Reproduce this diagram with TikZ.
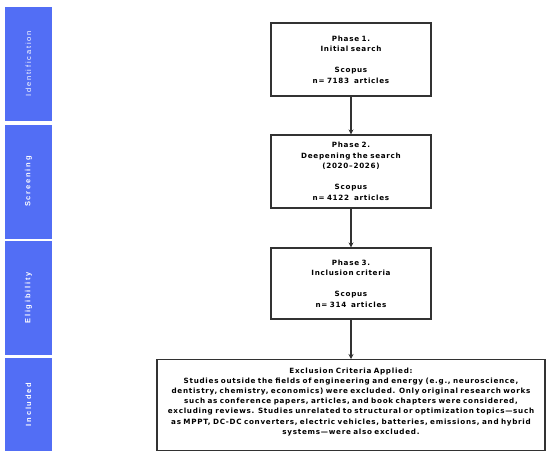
\documentclass[tikz,border=0pt]{standalone}
\usepackage{fontspec}
\setmainfont{DejaVu Sans}[LetterSpace=10,WordSpace=2.4]
\newfontfamily\stagefont{Liberation Sans}[LetterSpace=24]
\usetikzlibrary{arrows.meta,positioning}
\definecolor{stageblue}{RGB}{82,110,245}
\definecolor{boxgray}{RGB}{50,50,50}

\begin{document}
\begin{tikzpicture}[x=1pt,y=-1pt,
  phasebox/.style={draw=boxgray, line width=1.1pt, fill=white, minimum width=160pt,
    text width=158pt, align=center, inner sep=0pt,
    font=\fontsize{7.2}{10.5}\selectfont\bfseries},
  stagebar/.style={fill=stageblue, minimum height=47pt, inner sep=0pt, rotate=90,
    text=white, font=\stagefont\fontsize{7.5}{8}\selectfont},
  flow/.style={-{Stealth[length=5pt,width=5pt]}, draw=boxgray, line width=1.1pt}]
\useasboundingbox (0,0) rectangle (550,458);
% -- Left: stage bars --
\node[stagebar, minimum width=114pt] (ident) at (28.5,64) {Identification};
\node[stagebar, minimum width=114pt, font=\stagefont\fontsize{7.5}{8}\selectfont\bfseries]
  (screen) at (28.5,181.5) {Screening};
\node[stagebar, minimum width=114pt, font=\stagefont\fontsize{7.5}{8}\selectfont\bfseries]
  (elig) at (28.5,298) {Eligibility};
\node[stagebar, minimum width=93pt, font=\stagefont\fontsize{7.5}{8}\selectfont\bfseries]
  (incl) at (28.5,404.5) {Included};
% -- Right: phases --
\node[phasebox, minimum height=73pt] (phaseA) at (351,59.5)
  {Phase 1.\\Initial search\\[10.5pt]Scopus\\n= 7183\ \ articles};
\node[phasebox, minimum height=73pt] (phaseB) at (351,171.5)
  {Phase 2.\\Deepening the search\\(2020--2026)\\[10.5pt]Scopus\\n= 4122\ \ articles};
\node[phasebox, minimum height=71pt] (phaseC) at (351,283.5)
  {Phase 3.\\Inclusion criteria\\[10.5pt]Scopus\\n= 314\ \ articles};
% Exclusion box
\node[phasebox, anchor=north, minimum width=388pt, text width=386pt, inner ysep=0pt]
  (exclude) at (351,359)
  {\begin{minipage}[t][91pt][t]{386pt}\centering\fontsize{7.2}{10.2}\selectfont\vspace{8pt}
   Exclusion Criteria Applied:\\
   Studies outside the fields of engineering and energy (e.g., neuroscience,\\
   dentistry, chemistry, economics) were excluded. Only original research works\\
   such as conference papers, articles, and book chapters were considered,\\
   excluding reviews. Studies unrelated to structural or optimization topics---such\\
   as MPPT, DC-DC converters, electric vehicles, batteries, emissions, and hybrid\\
   systems---were also excluded.
   \end{minipage}};
% Arrows
\draw[flow] (phaseA) -- (phaseB);
\draw[flow] (phaseB) -- (phaseC);
\draw[flow] (phaseC) -- (exclude);
\end{tikzpicture}
\end{document}
